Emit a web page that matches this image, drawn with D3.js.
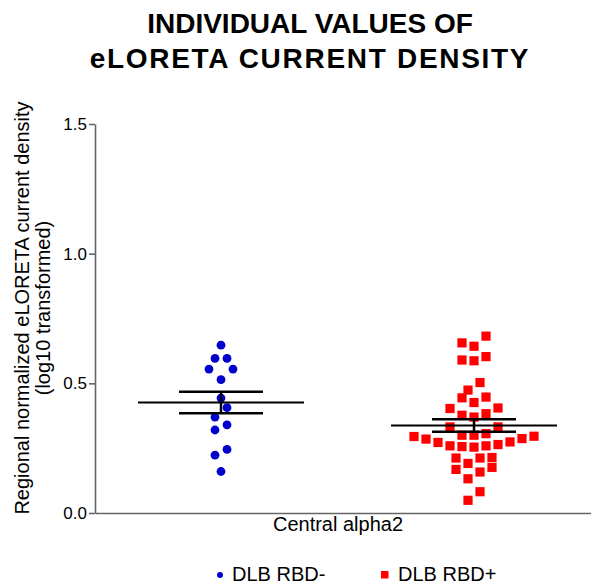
<!DOCTYPE html>
<html>
<head>
<meta charset="utf-8">
<script src="https://cdn.jsdelivr.net/npm/d3@7"></script>
<style>
    body { margin: 0; background: #fff; }
    svg text { font-family: Arial, "Liberation Sans", sans-serif; fill: #000; }
</style>
</head>
<body>
<div id="chart"></div>
<script>
// Data
var groups = ['DLB RBD-', 'DLB RBD+'];
var rbd_neg = [0.647, 0.596, 0.596, 0.555, 0.555, 0.514, 0.443, 0.406, 0.370,
    0.340, 0.320, 0.245, 0.223, 0.160];
var rbd_pos = [0.682, 0.656, 0.643, 0.603, 0.590, 0.587, 0.503, 0.474, 0.447,
    0.444, 0.426, 0.405, 0.403, 0.383, 0.377, 0.370, 0.332, 0.332, 0.306, 0.300,
    0.300, 0.296, 0.295, 0.287, 0.285, 0.274, 0.272, 0.264, 0.259, 0.259, 0.256,
    0.254, 0.214, 0.212, 0.212, 0.191, 0.176, 0.168, 0.158, 0.132, 0.082, 0.049];
var y_ticks = [0, 0.5, 1.0, 1.5];
var title_lines = ['INDIVIDUAL VALUES OF', 'eLORETA CURRENT DENSITY'];
var y_label_lines = ['Regional normalized eLORETA current density', '(log10 transformed)'];
var x_label = 'Central alpha2';

var chart_width = 591;
var chart_height = 586;
var col_step = 12;      // horizontal spacing of the scatter columns
var row_height = 11.5;  // points closer than this (px) share a row

var svg = d3.select('#chart')
    .append('svg')
    .attr('width', chart_width)
    .attr('height', chart_height);

// Escalas
var y_scale = d3.scaleLinear()
    .domain([0, 1.5])
    .range([513, 124]);

var x_scale = d3.scalePoint()
    .domain(groups)
    .range([221, 474]);

// scatter layout: rows of near-equal values, spread out from the centre
function swarm(values, cx) {
    var sorted = values.slice().sort(d3.ascending);
    var rows = [];
    var row = null;
    sorted.forEach(function (v) {
        if (!row || y_scale(row[0]) - y_scale(v) > row_height) {
            row = [v];
            rows.push(row);
        } else {
            row.push(v);
        }
    });
    var pts = [];
    rows.forEach(function (r) {
        var n = r.length;
        r.forEach(function (v, i) {
            var off;
            if (n % 2 === 1) {
                off = i === 0 ? 0 : Math.ceil(i / 2) * (i % 2 ? -1 : 1);
            } else {
                off = (Math.floor(i / 2) + 0.5) * (i % 2 ? 1 : -1);
            }
            pts.push({ v: v, x: cx + off * col_step, y: y_scale(v) });
        });
    });
    return pts;
}

// Eixos
var y_axis = d3.axisLeft(y_scale)
    .tickValues(y_ticks)
    .tickFormat(d3.format('.1f'))
    .tickSize(6)
    .tickSizeOuter(0)
    .tickPadding(2);

var gy = svg.append('g')
    .attr('transform', 'translate(95,0)')
    .call(y_axis);
gy.selectAll('path, line').attr('stroke', '#666').attr('stroke-width', 1.6);
gy.selectAll('text').attr('font-size', '17px').attr('fill', '#000');

var x_axis = d3.axisBottom(d3.scaleBand().domain([x_label]).range([95, chart_width]))
    .tickSize(0)
    .tickSizeOuter(0)
    .tickFormat('');

var gx = svg.append('g')
    .attr('transform', 'translate(0,513)')
    .call(x_axis);
gx.select('path').attr('stroke', '#666').attr('stroke-width', 1.6);

svg.append('text')
    .attr('x', 338)
    .attr('y', 531)
    .attr('text-anchor', 'middle')
    .attr('font-size', '20px')
    .text(x_label);

// Titulo
svg.selectAll('.title')
    .data(title_lines)
    .enter()
    .append('text')
    .attr('class', 'title')
    .attr('x', 310)
    .attr('y', function (d, i) { return 33 + i * 35; })
    .attr('text-anchor', 'middle')
    .attr('font-size', '28px')
    .attr('font-weight', 'bold')
    .attr('letter-spacing', function (d, i) { return i === 1 ? '1.7px' : '0px'; })
    .text(function (d) { return d; });

// rotulo do eixo y
svg.selectAll('.ylab')
    .data(y_label_lines)
    .enter()
    .append('text')
    .attr('class', 'ylab')
    .attr('transform', function (d, i) {
        return 'translate(' + (29 + i * 21) + ',308) rotate(-90)';
    })
    .attr('text-anchor', 'middle')
    .attr('font-size', '20px')
    .text(function (d) { return d; });

// Pontos
var neg_pts = swarm(rbd_neg, x_scale(groups[0]));
var pos_pts = swarm(rbd_pos, x_scale(groups[1]));

svg.selectAll('circle.neg')
    .data(neg_pts)
    .enter()
    .append('circle')
    .attr('class', 'neg')
    .attr('cx', function (d) { return d.x; })
    .attr('cy', function (d) { return d.y; })
    .attr('r', 4.4)
    .attr('fill', '#0000cc');

svg.selectAll('rect.pos')
    .data(pos_pts)
    .enter()
    .append('rect')
    .attr('class', 'pos')
    .attr('x', function (d) { return d.x - 4.6; })
    .attr('y', function (d) { return d.y - 4.6; })
    .attr('width', 9.2)
    .attr('height', 9.2)
    .attr('fill', '#ff0000');

// media +/- EPM
var stats = [rbd_neg, rbd_pos].map(function (vals, i) {
    var m = d3.mean(vals);
    var sem = d3.deviation(vals) / Math.sqrt(vals.length);
    return { cx: x_scale(groups[i]), mean: m, lo: m - sem, hi: m + sem };
});

var sg = svg.append('g').attr('stroke', '#000');

sg.selectAll('line.mean')
    .data(stats)
    .enter()
    .append('line')
    .attr('x1', function (d) { return d.cx - 83; })
    .attr('x2', function (d) { return d.cx + 83; })
    .attr('y1', function (d) { return y_scale(d.mean); })
    .attr('y2', function (d) { return y_scale(d.mean); })
    .attr('stroke-width', 2);

sg.selectAll('line.vert')
    .data(stats)
    .enter()
    .append('line')
    .attr('x1', function (d) { return d.cx; })
    .attr('x2', function (d) { return d.cx; })
    .attr('y1', function (d) { return y_scale(d.lo); })
    .attr('y2', function (d) { return y_scale(d.hi); })
    .attr('stroke-width', 2.5);

sg.selectAll('line.cap')
    .data(stats.flatMap(function (d) {
        return [{ cx: d.cx, v: d.lo }, { cx: d.cx, v: d.hi }];
    }))
    .enter()
    .append('line')
    .attr('x1', function (d) { return d.cx - 42; })
    .attr('x2', function (d) { return d.cx + 42; })
    .attr('y1', function (d) { return y_scale(d.v); })
    .attr('y2', function (d) { return y_scale(d.v); })
    .attr('stroke-width', 2.5);

// Legenda
var legend = svg.append('g');
legend.append('circle')
    .attr('cx', 220)
    .attr('cy', 575)
    .attr('r', 3)
    .attr('fill', '#0000cc');
legend.append('text')
    .attr('x', 232)
    .attr('y', 581)
    .attr('font-size', '20px')
    .text(groups[0]);
legend.append('rect')
    .attr('x', 381)
    .attr('y', 571)
    .attr('width', 7.5)
    .attr('height', 7.5)
    .attr('fill', '#ff0000');
legend.append('text')
    .attr('x', 398)
    .attr('y', 581)
    .attr('font-size', '20px')
    .text(groups[1]);
</script>
</body>
</html>
